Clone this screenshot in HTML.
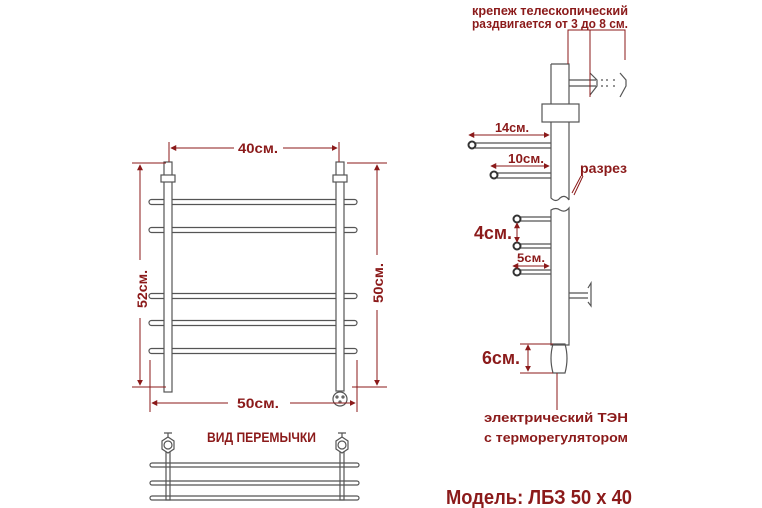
<!DOCTYPE html>
<html><head><meta charset="utf-8"><style>
html,body{margin:0;padding:0;background:#fff;}
svg{display:block;}
text{font-family:"Liberation Sans",sans-serif;font-weight:bold;fill:#8b1a1a;}
</style></head><body>
<svg width="762" height="508" viewBox="0 0 762 508" xmlns="http://www.w3.org/2000/svg">
<defs>
<marker id="a" viewBox="0 0 8 8" refX="7" refY="4" markerWidth="6" markerHeight="6" orient="auto-start-reverse"><path d="M0,0L8,4L0,8z" fill="#8b1a1a"/></marker>
</defs>
<g fill="none" stroke="#555" stroke-width="1.2">
<rect x="149" y="199.5" width="208" height="5" rx="2.5"/>
<rect x="149" y="227.5" width="208" height="5" rx="2.5"/>
<rect x="149" y="293.5" width="208" height="5" rx="2.5"/>
<rect x="149" y="320.5" width="208" height="5" rx="2.5"/>
<rect x="149" y="348.5" width="208" height="5" rx="2.5"/>
<rect x="164" y="162" width="8" height="230" fill="#fff"/>
<rect x="336" y="162" width="8" height="229" fill="#fff"/>
<rect x="161" y="175" width="14" height="7" fill="#fff"/>
<rect x="333" y="175" width="14" height="7" fill="#fff"/>
<circle cx="340" cy="399" r="7" fill="#fff"/>
<circle cx="337" cy="397" r="1"/><circle cx="343" cy="397" r="1"/><circle cx="340" cy="402" r="1"/>
<rect x="150" y="463" width="209" height="4" rx="2"/>
<rect x="150" y="481" width="209" height="4" rx="2"/>
<rect x="150" y="496" width="209" height="4" rx="2"/>
<rect x="166" y="450" width="4" height="50"/>
<rect x="340" y="450" width="4" height="50"/>
<polygon points="168,437 174,441 174,449 168,453 162,449 162,441" fill="#fff"/>
<circle cx="168" cy="445" r="4"/>
<polygon points="342,437 348,441 348,449 342,453 336,449 336,441" fill="#fff"/>
<circle cx="342" cy="445" r="4"/>
<path d="M164,433H172M168,433V437M338,433H346M342,433V437"/>
<path d="M551,64H569V200M551,64V198Q556,203 560,198Q565,194 569,200"/>
<path d="M551,210Q556,207 560,210Q565,213 569,208V345H551Z"/>
<rect x="542" y="104" width="37" height="18" fill="#fff"/>
<path d="M569,80H596M569,86H596M590,73L597,80V86L590,95"/>
<path d="M601,80H608M613,80H618M601,86H608M613,86H618" stroke-dasharray="2,3"/>
<path d="M620,73L626,80V86L620,97"/>
<path d="M475,143H551M475,148H551M497,173H551M497,178H551"/>
<path d="M520,217H551M520,221H551M520,244H551M520,248H551M520,270H551M520,274H551"/>
<circle cx="472" cy="145" r="3.5" stroke-width="2" stroke="#333"/>
<circle cx="494" cy="175" r="3.5" stroke-width="2" stroke="#333"/>
<circle cx="517" cy="219" r="3.5" stroke-width="2" stroke="#333"/>
<circle cx="517" cy="246" r="3.5" stroke-width="2" stroke="#333"/>
<circle cx="517" cy="272" r="3.5" stroke-width="2" stroke="#333"/>
<path d="M569,293H588M569,298H588M588,288L591,283V306L588,302"/>
<path d="M553,344Q549,358 553,373H565Q569,358 565,344Z"/>
</g>
<g fill="none" stroke="#8b1a1a" stroke-width="1">
<path d="M169,142V162M339,142V162"/>
<path d="M171,148H234M283,148H337" marker-start="url(#a)" marker-end="url(#a)"/>
<path d="M132,163H166M132,387H166"/>
<path d="M140,165V260M140,318V385" marker-start="url(#a)" marker-end="url(#a)"/>
<path d="M347,163H387M352,387H387"/>
<path d="M377,165V255M377,310V385" marker-start="url(#a)" marker-end="url(#a)"/>
<path d="M150,360V412M357,360V412"/>
<path d="M152,403H228M290,403H355" marker-start="url(#a)" marker-end="url(#a)"/>
<path d="M568,64V30H625V60M590,30V97"/>
<path d="M469,135H549" marker-start="url(#a)" marker-end="url(#a)"/>
<path d="M491,166H549" marker-start="url(#a)" marker-end="url(#a)"/>
<path d="M517,223V242" marker-start="url(#a)" marker-end="url(#a)"/>
<path d="M513,266H549" marker-start="url(#a)" marker-end="url(#a)"/>
<path d="M528,345V371" marker-start="url(#a)" marker-end="url(#a)"/>
<path d="M520,344H553M520,373H553M557,373V410"/>
<path d="M581,176L572,193M583,176L574,195"/>
</g>
<g>
<text x="238" y="153" font-size="14" textLength="40" lengthAdjust="spacingAndGlyphs">40см.</text>
<text x="237" y="408" font-size="14" textLength="42" lengthAdjust="spacingAndGlyphs">50см.</text>
<text transform="translate(147,308) rotate(-90)" font-size="14" textLength="38" lengthAdjust="spacingAndGlyphs">52см.</text>
<text transform="translate(383,303) rotate(-90)" font-size="14" textLength="40" lengthAdjust="spacingAndGlyphs">50см.</text>
<text x="207" y="442" font-size="14" textLength="109" lengthAdjust="spacingAndGlyphs">ВИД ПЕРЕМЫЧКИ</text>
<text x="472" y="15" font-size="13" textLength="156" lengthAdjust="spacingAndGlyphs">крепеж телескопический</text>
<text x="472" y="28" font-size="13" textLength="156" lengthAdjust="spacingAndGlyphs">раздвигается от 3 до 8 см.</text>
<text x="495" y="132" font-size="13" textLength="34" lengthAdjust="spacingAndGlyphs">14см.</text>
<text x="508" y="163" font-size="13" textLength="36" lengthAdjust="spacingAndGlyphs">10см.</text>
<text x="580" y="173" font-size="14" textLength="47" lengthAdjust="spacingAndGlyphs">разрез</text>
<text x="474" y="239" font-size="18" textLength="38" lengthAdjust="spacingAndGlyphs">4см.</text>
<text x="517" y="262" font-size="12" textLength="28" lengthAdjust="spacingAndGlyphs">5см.</text>
<text x="482" y="364" font-size="18" textLength="38" lengthAdjust="spacingAndGlyphs">6см.</text>
<text x="484" y="422" font-size="13" textLength="144" lengthAdjust="spacingAndGlyphs">электрический   ТЭН</text>
<text x="484" y="442" font-size="13" textLength="144" lengthAdjust="spacingAndGlyphs">с терморегулятором</text>
<text x="446" y="504" font-size="20" textLength="186" lengthAdjust="spacingAndGlyphs">Модель: ЛБЗ 50 х 40</text>
</g>
</svg>
</body></html>
